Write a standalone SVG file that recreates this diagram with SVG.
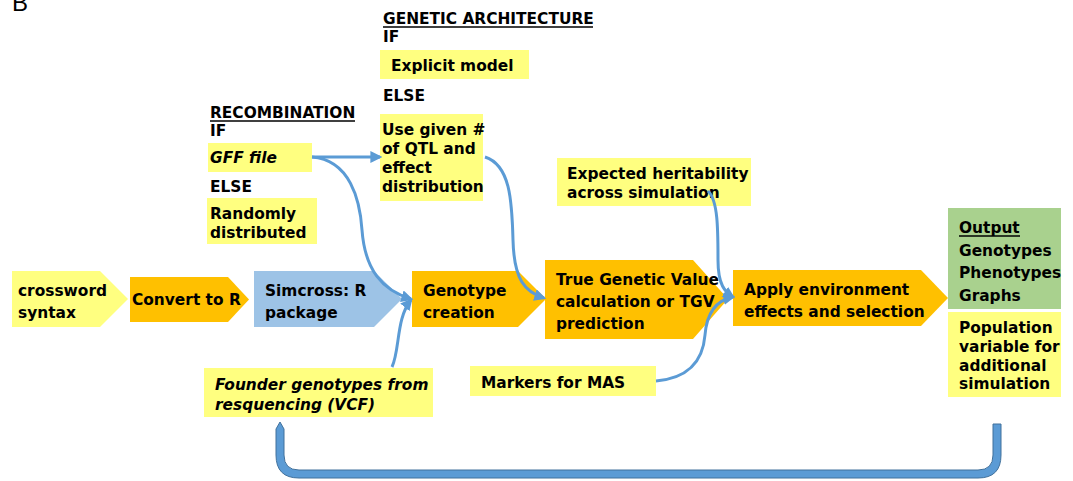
<svg xmlns="http://www.w3.org/2000/svg" width="1073" height="481" viewBox="0 0 1073 481">
<defs>
<style>
text{font-family:"DejaVu Sans","Liberation Sans",sans-serif;font-size:15.4px;font-weight:bold;fill:#000}
.it{font-style:italic}
.y{fill:#FFFF80}
.o{fill:#FFC000}
.b{fill:#9DC3E6}
.g{fill:#A9D18E}
.c{fill:none;stroke:#5B9BD5;stroke-width:3;marker-end:url(#ah)}
.ul{stroke:#000;stroke-width:1.3}
</style>
<marker id="ah" viewBox="0 0 10 10" refX="8" refY="5" markerWidth="4" markerHeight="4" orient="auto" markerUnits="strokeWidth">
<path d="M0,0 L10,5 L0,10 Z" fill="#5B9BD5"/>
</marker>
</defs>
<rect width="1073" height="481" fill="#fff"/>
<text x="12" y="11" style="font-family:'Liberation Sans',sans-serif;font-size:24px;font-weight:normal">B</text>

<g id="recombination">
<text x="210" y="118">RECOMBINATION</text>
<line class="ul" x1="210" y1="121" x2="355" y2="121"/>
<text x="210" y="136">IF</text>
<rect class="y" x="208" y="143" width="104" height="29"/>
<text class="it" x="210" y="163">GFF file</text>
<text x="210" y="192">ELSE</text>
<rect class="y" x="207" y="198" width="110" height="46"/>
<text x="210" y="219">Randomly</text>
<text x="210" y="238">distributed</text>
</g>

<g id="genetic-architecture">
<text x="383" y="24">GENETIC ARCHITECTURE</text>
<line class="ul" x1="383" y1="27" x2="593" y2="27"/>
<text x="383" y="42">IF</text>
<rect class="y" x="380" y="50" width="149" height="29"/>
<text x="391" y="71">Explicit model</text>
<text x="383" y="101">ELSE</text>
<rect class="y" x="380" y="114" width="103" height="87"/>
<text x="382" y="135">Use given #</text>
<text x="382" y="154">of QTL and</text>
<text x="382" y="173">effect</text>
<text x="382" y="192">distribution</text>
</g>

<g id="heritability">
<rect class="y" x="557" y="158" width="194" height="48"/>
<text x="567" y="179">Expected heritability</text>
<text x="567" y="198">across simulation</text>
</g>

<g id="crossword">
<polygon class="y" points="12,271 100,271 128,299 100,327 12,327"/>
<text x="18" y="296">crossword</text>
<text x="18" y="318">syntax</text>
</g>

<g id="convert">
<polygon class="o" points="130,277 228,277 249,299.5 228,322 130,322"/>
<text x="132" y="305">Convert to R</text>
</g>

<g id="simcross">
<polygon class="b" points="254,271 374,271 402,299 374,327 254,327"/>
<text x="265" y="296">Simcross: R</text>
<text x="265" y="318">package</text>
</g>

<g id="genotype-creation">
<polygon class="o" points="412,271 518,271 546,299 518,327 412,327"/>
<text x="423" y="296">Genotype</text>
<text x="423" y="318">creation</text>
</g>

<g id="tgv">
<polygon class="o" points="545,260 693,260 728,299 693,339 545,339"/>
<text x="556" y="285">True Genetic Value</text>
<text x="556" y="307">calculation or TGV</text>
<text x="556" y="329">prediction</text>
</g>

<g id="apply">
<polygon class="o" points="733,270 921,270 948,298 921,326 733,326"/>
<text x="744" y="295">Apply environment</text>
<text x="744" y="317">effects and selection</text>
</g>

<g id="output">
<rect class="g" x="948" y="208" width="113" height="101"/>
<text x="959" y="233">Output</text>
<line class="ul" x1="959" y1="236" x2="1020" y2="236"/>
<text x="959" y="256">Genotypes</text>
<text x="959" y="278">Phenotypes</text>
<text x="959" y="301">Graphs</text>
</g>

<g id="population">
<rect class="y" x="948" y="312" width="113" height="85"/>
<text x="959" y="333">Population</text>
<text x="959" y="352">variable for</text>
<text x="959" y="371">additional</text>
<text x="959" y="389">simulation</text>
</g>

<g id="founder">
<rect class="y" x="204" y="368" width="229" height="49"/>
<text class="it" x="215" y="390">Founder genotypes from</text>
<text class="it" x="215" y="410">resquencing (VCF)</text>
</g>

<g id="markers">
<rect class="y" x="470" y="366" width="186" height="30"/>
<text x="481" y="388">Markers for MAS</text>
</g>

<g id="connectors">
<path class="c" d="M312,157 L380,157"/>
<path class="c" d="M312,157 C350,160 360,200 362,230 C365,270 382,290 411,299"/>
<path class="c" d="M392,367 C400,350 396,318 411,300"/>
<path class="c" d="M485,157 C510,165 512,200 513,240 C514,280 525,292 544,298"/>
<path class="c" d="M708,191 C718,200 718,230 718,260 C718,285 725,292 733,297"/>
<path class="c" d="M656,381 C690,378 703,360 705,335 C707,310 718,300 733,297"/>
<path d="M280,422 L284,429 L284,455 Q284,470 299,470 L978,470 Q993,470 993,455 L993,424 L1001,424 L1001,455 Q1001,478 978,478 L299,478 Q276,478 276,455 L276,429 Z" fill="#5B9BD5" stroke="#41719C" stroke-width="1"/>
</g>
</svg>
